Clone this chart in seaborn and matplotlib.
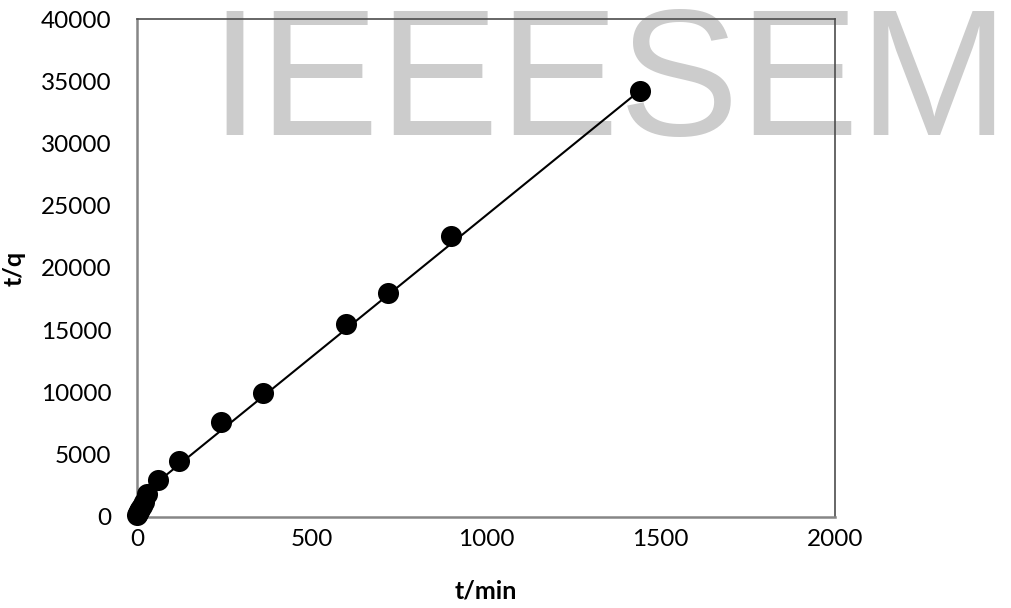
import matplotlib
matplotlib.use("Agg")
import matplotlib.pyplot as plt
import seaborn as sns
import pandas as pd

# data
t_min = [1, 3, 5, 10, 15, 20, 30, 60, 120, 240, 360, 600, 720, 900, 1440]
t_over_q = [150, 280, 420, 650, 900, 1150, 1850, 2950, 4480, 7650, 9950, 15480, 17980, 22580, 34230]
# fitted straight line (as drawn in the reference)
fit_t = [1, 1440]
fit_tq = [1470, 34250]
x_ticks = [0, 500, 1000, 1500, 2000]
y_ticks = [0, 5000, 10000, 15000, 20000, 25000, 30000, 35000, 40000]
watermark = "IEEESEM"

df = pd.DataFrame({"t/min": t_min, "t/q": t_over_q})
fit_df = pd.DataFrame({"t/min": fit_t, "t/q": fit_tq})

sns.set_theme(style="white")
plt.rcParams["font.family"] = ["Lato", "DejaVu Sans"]

fig = plt.figure(figsize=(10.11, 6.08), dpi=100)
fig.patch.set_facecolor("white")
ax = fig.add_axes([137 / 1011, 1 - 516.7 / 608, (835 - 137) / 1011, (516.7 - 19.3) / 608])
ax.patch.set_alpha(0)

fig.text(209 / 1011, 1 - 135 / 608, watermark, fontsize=129.5, color="#cccccc",
         family="Liberation Sans", ha="left", va="baseline", zorder=-5)

sns.lineplot(data=fit_df, x="t/min", y="t/q", ax=ax, color="black", lw=1.5,
             zorder=2, legend=False)
sns.scatterplot(data=df, x="t/min", y="t/q", ax=ax, s=230, color="black",
                linewidth=0, zorder=3, clip_on=False, legend=False)

ax.set_xlim(0, 2000)
ax.set_ylim(0, 40000)
ax.set_xticks(x_ticks)
ax.set_yticks(y_ticks)
ax.set_xticklabels([str(v) for v in x_ticks])
ax.set_yticklabels([str(v) for v in y_ticks])

for side in ["left", "bottom"]:
    ax.spines[side].set_color("#868686")
    ax.spines[side].set_linewidth(1.8)
for side in ["top", "right"]:
    ax.spines[side].set_color("#4d4d4d")
    ax.spines[side].set_linewidth(1.2)
    ax.spines[side].set_visible(True)

ax.tick_params(axis="both", direction="in", length=8, width=1.5, color="#868686",
               labelsize=17.5, labelcolor="black")
ax.tick_params(axis="y", pad=18.5)
ax.tick_params(axis="x", pad=9)

ax.set_xlabel("t/min", fontsize=18, fontweight="bold", color="black", labelpad=21)
ax.set_ylabel("t/q", fontsize=18, fontweight="bold", color="black", labelpad=11)

fig.savefig("out.png", dpi=100)
